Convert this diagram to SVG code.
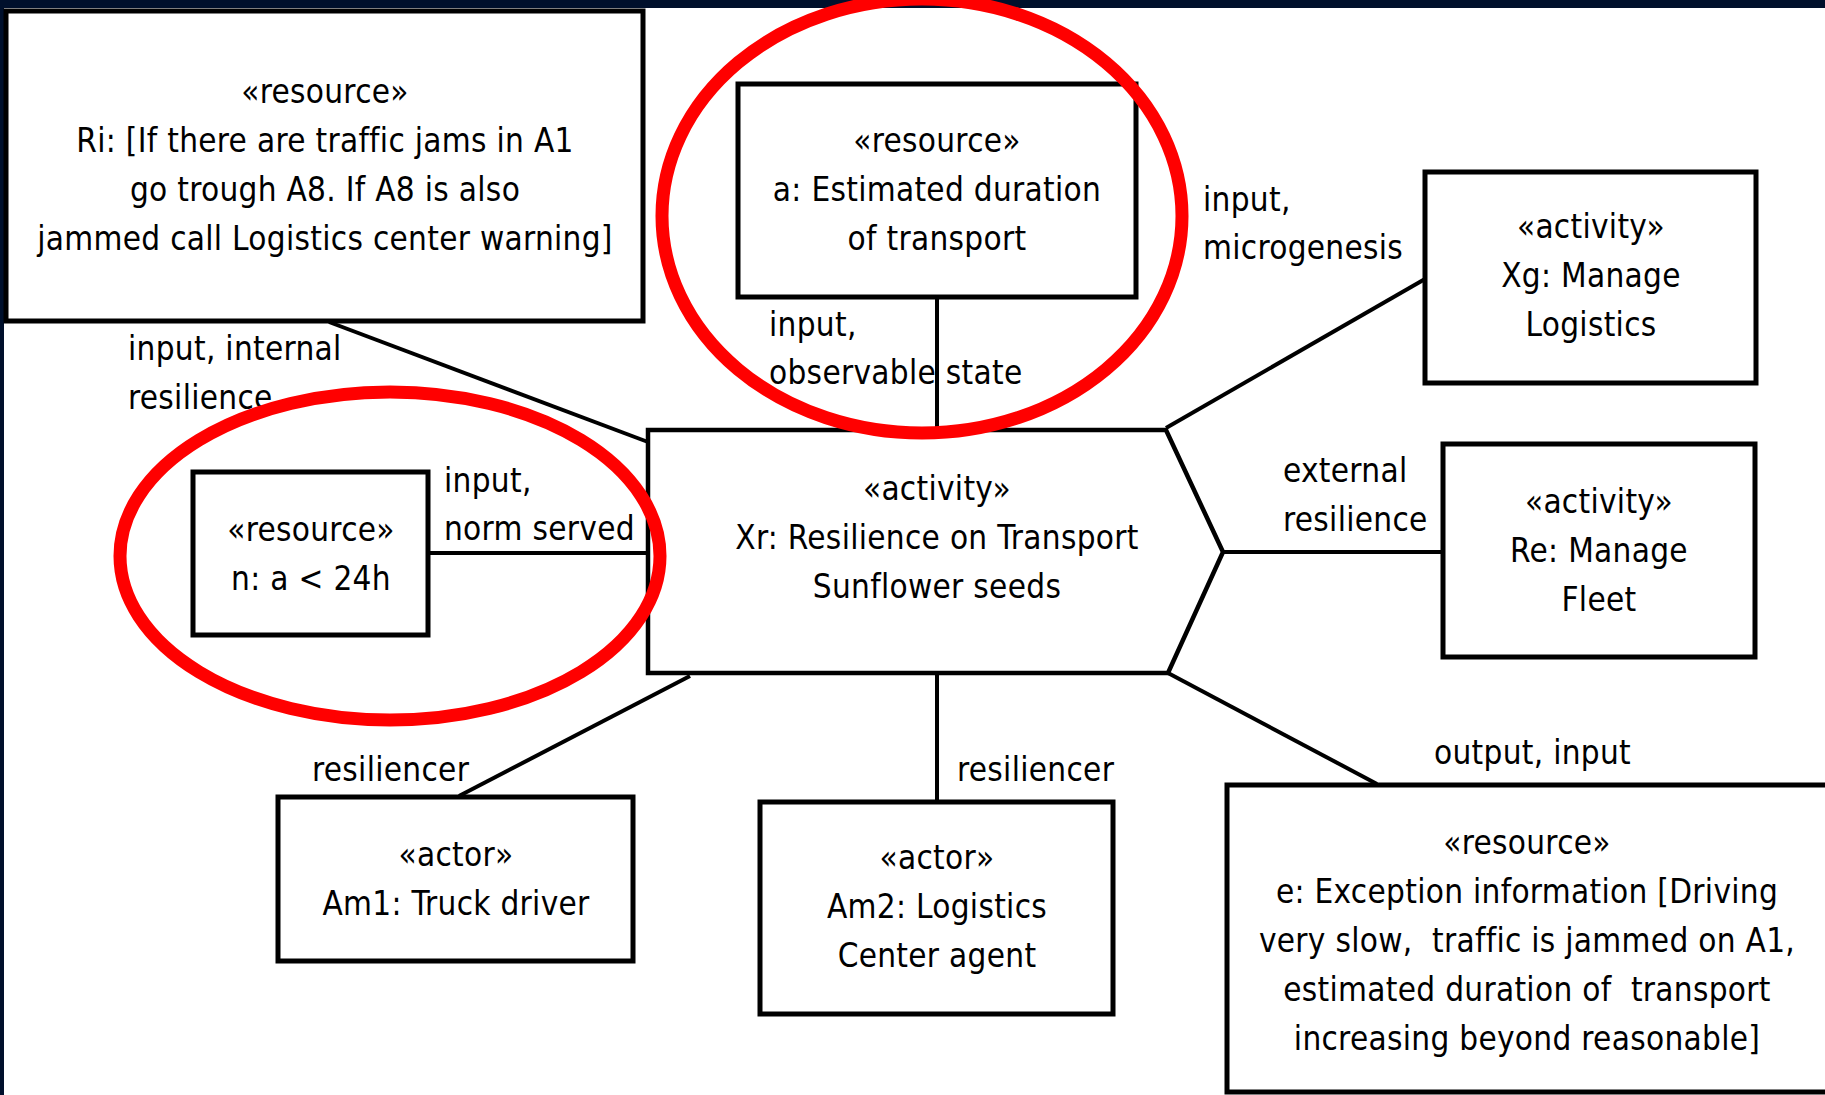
<svg xmlns="http://www.w3.org/2000/svg" width="1825" height="1095" viewBox="0 0 1825 1095">
  <style>
    .box { fill: #ffffff; stroke: #000000; stroke-width: 5; }
    .act { fill: #ffffff; stroke: #000000; stroke-width: 4.5; stroke-linejoin: miter; }
    .link { stroke: #000000; stroke-width: 4; fill: none; }
    text { font-family: "DejaVu Sans Condensed", "DejaVu Sans", sans-serif; font-stretch: condensed; font-size: 33px; letter-spacing: 0.3px; fill: #000000; }
    .c { text-anchor: middle; }
    .mark { fill: none; stroke: #ff0000; stroke-width: 13; }
  </style>

  <!-- page -->
  <rect x="0" y="0" width="1825" height="1095" fill="#ffffff"/>
  <rect x="0" y="0" width="1825" height="8" fill="#00102c"/>
  <rect x="0" y="0" width="4" height="1095" fill="#00102c"/>

  <!-- connectors and their role labels -->
  <g id="connectors">
    <line class="link" x1="329" y1="322" x2="648" y2="442"/>
    <line class="link" x1="937" y1="298" x2="937" y2="429"/>
    <line class="link" x1="1166" y1="428" x2="1425" y2="279"/>
    <line class="link" x1="428" y1="553" x2="648" y2="553"/>
    <line class="link" x1="1223" y1="552" x2="1443" y2="552"/>
    <line class="link" x1="1168" y1="673" x2="1377" y2="784"/>
    <line class="link" x1="937" y1="673" x2="937" y2="801"/>
    <line class="link" x1="690" y1="676" x2="459" y2="796"/>

    <text x="128" y="360">input, internal</text>
    <text x="128" y="409">resilience</text>
    <text x="769" y="336">input,</text>
    <text x="769" y="384">observable state</text>
    <text x="1203" y="211">input,</text>
    <text x="1203" y="259">microgenesis</text>
    <text x="444" y="492">input,</text>
    <text x="444" y="540">norm served</text>
    <text x="1283" y="482">external</text>
    <text x="1283" y="531">resilience</text>
    <text x="1434" y="764">output, input</text>
    <text x="312" y="781">resiliencer</text>
    <text x="957" y="781">resiliencer</text>
  </g>

  <g id="node-Ri">
    <rect class="box" x="6" y="11" width="637" height="310"/>
    <text class="c" x="325" y="103">«resource»</text>
    <text class="c" x="325" y="152">Ri: [If there are traffic jams in A1</text>
    <text class="c" x="325" y="201">go trough A8. If A8 is also</text>
    <text class="c" x="325" y="250">jammed call Logistics center warning]</text>
  </g>

  <g id="node-a">
    <rect class="box" x="738" y="84" width="398" height="213"/>
    <text class="c" x="937" y="152">«resource»</text>
    <text class="c" x="937" y="201">a: Estimated duration</text>
    <text class="c" x="937" y="250">of transport</text>
  </g>

  <g id="node-Xg">
    <rect class="box" x="1425" y="172" width="331" height="211"/>
    <text class="c" x="1591" y="238">«activity»</text>
    <text class="c" x="1591" y="287">Xg: Manage</text>
    <text class="c" x="1591" y="336">Logistics</text>
  </g>

  <g id="node-Xr">
    <polygon class="act" points="648,430 1166,430 1223,552 1168,673 648,673"/>
    <text class="c" x="937" y="500">«activity»</text>
    <text class="c" x="937" y="549">Xr: Resilience on Transport</text>
    <text class="c" x="937" y="598">Sunflower seeds</text>
  </g>

  <g id="node-n">
    <rect class="box" x="193" y="472" width="235" height="163"/>
    <text class="c" x="311" y="541">«resource»</text>
    <text class="c" x="311" y="590">n: a &lt; 24h</text>
  </g>

  <g id="node-Re">
    <rect class="box" x="1443" y="444" width="312" height="213"/>
    <text class="c" x="1599" y="513">«activity»</text>
    <text class="c" x="1599" y="562">Re: Manage</text>
    <text class="c" x="1599" y="611">Fleet</text>
  </g>

  <g id="node-Am1">
    <rect class="box" x="278" y="797" width="355" height="164"/>
    <text class="c" x="456" y="866">«actor»</text>
    <text class="c" x="456" y="915">Am1: Truck driver</text>
  </g>

  <g id="node-Am2">
    <rect class="box" x="760" y="802" width="353" height="212"/>
    <text class="c" x="937" y="869">«actor»</text>
    <text class="c" x="937" y="918">Am2: Logistics</text>
    <text class="c" x="937" y="967">Center agent</text>
  </g>

  <g id="node-e">
    <rect class="box" x="1227" y="785" width="610" height="307"/>
    <text class="c" x="1527" y="854">«resource»</text>
    <text class="c" x="1527" y="903">e: Exception information [Driving</text>
    <text class="c" x="1527" y="952" xml:space="preserve">very slow,  traffic is jammed on A1,</text>
    <text class="c" x="1527" y="1001" xml:space="preserve">estimated duration of  transport</text>
    <text class="c" x="1527" y="1050">increasing beyond reasonable]</text>
  </g>

  <!-- red emphasis rings -->
  <g id="highlights">
    <ellipse class="mark" cx="922" cy="216" rx="260" ry="217"/>
    <ellipse class="mark" cx="390" cy="556" rx="270" ry="164"/>
  </g>
</svg>
